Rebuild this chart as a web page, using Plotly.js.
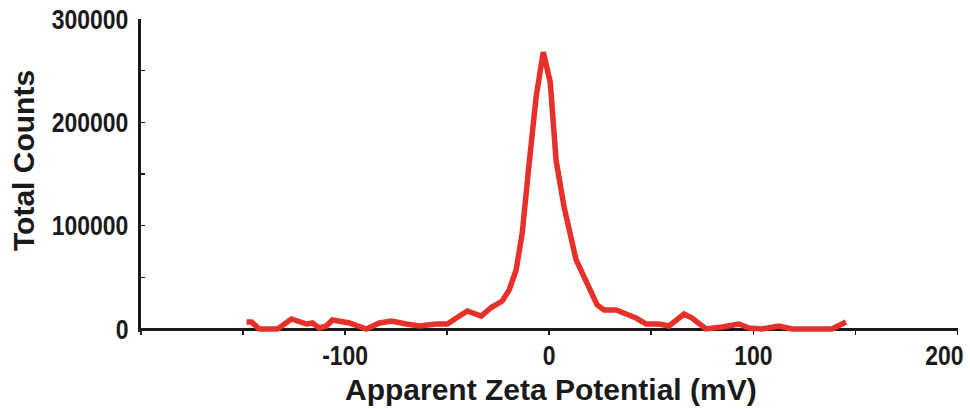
<!DOCTYPE html>
<html>
<head>
<meta charset="utf-8">
<script src="https://cdn.plot.ly/plotly-3.0.1.min.js"></script>
<style>html,body{margin:0;padding:0;background:#fff;}#chart{width:970px;height:409px;}</style>
</head>
<body>
<div id="chart"></div>
<script>
// Apparent zeta potential (mV)
const zeta = [-148.3, -145.9, -142.0, -133.1, -126.3, -118.9, -116.0, -112.6, -109.2, -106.2,
  -97.9, -89.6, -83.2, -77.3, -70.0, -63.6, -55.3, -49.9, -45.5, -40.1,
  -33.3, -28.4, -23.0, -19.6, -16.2, -13.2, -10.3, -6.4, -2.9, 0.5,
  3.4, 7.3, 13.2, 18.1, 23.5, 26.9, 32.8, 37.7, 42.6, 47.5,
  53.8, 58.7, 66.1, 70.0, 76.8, 84.7, 93.0, 97.9, 104.3, 112.6,
  118.9, 138.5, 145.4];
// Total counts
const counts = [6800, 6800, 0, 0, 9700, 4800, 5800, 1000, 2900, 8700,
  5800, 0, 5800, 7700, 4800, 2900, 4800, 4800, 10600, 17400,
  12500, 20800, 27100, 37800, 57100, 92900, 151000, 224600, 268000, 239000,
  163000, 118000, 66800, 44500, 23200, 18400, 18400, 14500, 10600, 4800,
  4800, 2900, 14500, 10600, 0, 1900, 4800, 1000, 0, 2900,
  0, 0, 6800];
const xTickVals = [-100, 0, 100, 200];
const xTickText = ['-100', '0', '100', '200'];
const yTickVals = [0, 100000, 200000, 300000];
const yTickText = ['0', '100000', '200000', '300000'];
const xTitle = 'Apparent Zeta Potential (mV)';
const yTitle = 'Total Counts';

const yPad = 2903;
const yMax = 300000;
const sans = '"Liberation Sans", Arial, sans-serif';
const ink = '#1a1a1a';

const trace = {
  x: zeta, y: counts, type: 'scatter', mode: 'lines',
  line: {color: '#e8302b', width: 5.5}, hoverinfo: 'skip'
};

const L = 141, R = 12, T = 19, B = 77;
const W = 970 - L - R, H = 409 - T - B;
const px2x = px => (px - L) / W;
const px2y = py => (409 - B - py) / H;

const layout = {
  width: 970, height: 409,
  margin: {l: L, r: R, t: T, b: B},
  paper_bgcolor: '#ffffff', plot_bgcolor: '#ffffff',
  showlegend: false,
  xaxis: {
    range: [-200, 200.3], showgrid: false, zeroline: false,
    showline: true, linecolor: ink, linewidth: 3,
    anchor: 'free', position: yPad / (yMax + yPad),
    layer: 'below traces',
    tickmode: 'array', tickvals: xTickVals, ticktext: xTickText,
    ticks: 'outside', ticklen: 4, tickwidth: 1.5, tickcolor: ink,
    minor: {dtick: 50, tick0: 0, ticks: 'outside', ticklen: 4, tickwidth: 1.5, tickcolor: ink},
    tickfont: {family: sans, size: 28, color: ink, weight: 'bold'},
    ticklabelstandoff: -4,
    ticklabeloverflow: 'allow',
    fixedrange: true
  },
  yaxis: {
    range: [-yPad, yMax], showgrid: false, zeroline: false,
    showline: true, linecolor: ink, linewidth: 3,
    layer: 'below traces',
    tickmode: 'array', tickvals: yTickVals, ticktext: yTickText,
    ticks: 'inside', ticklen: 4, tickwidth: 1.5, tickcolor: ink,
    minor: {dtick: 50000, tick0: 0, ticks: 'inside', ticklen: 4, tickwidth: 1.5, tickcolor: ink},
    tickfont: {family: sans, size: 28, color: ink, weight: 'bold'},
    ticklabelstandoff: 4,
    ticklabeloverflow: 'allow',
    fixedrange: true
  },
  annotations: [
    {text: xTitle, xref: 'paper', yref: 'paper', x: px2x(551), y: px2y(389),
     xanchor: 'center', yanchor: 'middle', showarrow: false,
     font: {family: sans, size: 30, color: ink, weight: 'bold'}},
    {text: yTitle, xref: 'paper', yref: 'paper', x: px2x(23), y: px2y(161),
     xanchor: 'center', yanchor: 'middle', showarrow: false, textangle: -90,
     font: {family: sans, size: 30, color: ink, weight: 'bold'}}
  ]
};

Plotly.newPlot('chart', [trace], layout, {displayModeBar: false, staticPlot: true}).then(gd => {
  // condensed look of the original tick labels
  gd.querySelectorAll('g.xtick text, g.ytick text').forEach(el => {
    const len = el.getComputedTextLength();
    if (len > 0) {
      el.setAttribute('textLength', (len * 0.82).toFixed(2));
      el.setAttribute('lengthAdjust', 'spacingAndGlyphs');
    }
    // the last x label sits a little left of its tick, as in the original
    if (el.closest('g.xtick') && el.textContent === xTickText[xTickText.length - 1]) {
      const x0 = parseFloat(el.getAttribute('x')) || 0;
      el.setAttribute('x', (x0 - 13).toFixed(2));
    }
  });
});
</script>
</body>
</html>
